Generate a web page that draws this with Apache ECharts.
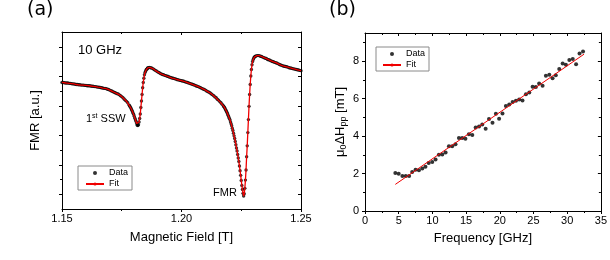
<!DOCTYPE html>
<html><head><meta charset="utf-8">
<script src="https://cdn.jsdelivr.net/npm/echarts@6/dist/echarts.min.js"></script>
<style>html,body{margin:0;padding:0;background:#fff}#c{width:610px;height:260px}</style>
</head><body><div id="c"></div>
<script>
// ---------- Panel (a): FMR spectrum at 10 GHz ----------
const fmrField = [
1.1500,1.1505,1.1510,1.1515,1.1520,1.1525,1.1530,1.1535,1.1540,1.1545,1.1550,1.1555,1.1560,1.1565,1.1570,1.1575,1.1580,1.1585,1.1590,1.1595,
1.1600,1.1605,1.1610,1.1615,1.1620,1.1625,1.1630,1.1635,1.1640,1.1645,1.1650,1.1655,1.1660,1.1665,1.1670,1.1675,1.1680,1.1685,1.1690,1.1695,
1.1700,1.1705,1.1710,1.1715,1.1720,1.1725,1.1730,1.1735,1.1740,1.1745,1.1750,1.1755,1.1760,1.1765,1.1770,1.1775,1.1780,
1.17825,1.1785,1.17875,1.1790,1.17925,1.1795,1.17975,1.1800,1.18025,1.1805,1.18075,1.1810,1.18125,1.1815,1.18175,1.1820,
1.18225,1.1825,1.18275,1.1830,1.18325,1.1835,1.18375,1.1840,1.18425,1.1845,1.18475,1.1850,1.18525,1.1855,1.18575,1.1860,1.1865,1.1870,
1.1875,1.1880,1.1885,1.1890,1.1895,1.1900,1.1905,1.1910,1.1915,1.1920,1.1925,1.1930,1.1935,1.1940,1.1945,1.1950,1.1955,1.1960,1.1965,1.1970,
1.1975,1.1980,1.1985,1.1990,1.1995,1.2000,1.2005,1.2010,1.2015,1.2020,1.2025,1.2030,1.2035,1.2040,1.2045,1.2050,1.2055,1.2060,1.2065,1.2070,
1.2075,1.2080,1.2085,1.2090,1.2095,1.2100,1.2105,1.2110,1.2115,1.2120,1.2125,1.2130,1.2135,1.2140,1.2145,1.2150,1.2155,1.2160,1.2165,1.2170,1.2175,
1.21775,1.2180,1.21825,1.2185,1.21875,1.2190,1.21925,1.2195,1.21975,1.2200,1.22025,1.2205,1.22075,1.2210,1.22125,1.2215,1.22175,1.2220,
1.22225,1.2225,1.22275,1.2230,1.22325,1.2235,1.22375,1.2240,1.22425,1.2245,1.22475,1.2250,1.22525,1.2255,1.22575,1.2260,1.22625,1.2265,
1.22675,1.2270,1.22725,1.2275,1.22775,1.2280,1.22825,1.2285,1.22875,1.2290,1.22925,1.2295,1.22975,1.2300,1.23025,1.2305,1.23075,1.2310,1.2315,1.2320,
1.2325,1.2330,1.2335,1.2340,1.2345,1.2350,1.2355,1.2360,1.2365,1.2370,1.2375,1.2380,1.2385,1.2390,1.2395,1.2400,1.2405,1.2410,
1.2415,1.2420,1.2425,1.2430,1.2435,1.2440,1.2445,1.2450,1.2455,1.2460,1.2465,1.2470,1.2475,1.2480,1.2485,1.2490,1.2495,1.2500
];
const fmrSignal = [
3.79,3.79,3.78,3.77,3.77,3.77,3.76,3.76,3.75,3.74,3.74,3.73,3.72,3.72,3.71,3.71,3.70,3.70,3.70,3.69,
3.69,3.68,3.68,3.68,3.67,3.66,3.66,3.65,3.65,3.64,3.63,3.63,3.62,3.61,3.60,3.59,3.59,3.58,3.56,3.55,
3.53,3.51,3.49,3.47,3.45,3.43,3.41,3.40,3.37,3.34,3.31,3.27,3.23,3.19,3.15,3.10,3.03,
3.00,2.97,2.93,2.89,2.85,2.80,2.75,2.70,2.64,2.58,2.52,2.47,2.40,2.34,2.33,2.36,
2.45,2.57,2.72,2.94,3.16,3.38,3.61,3.79,3.93,4.05,4.13,4.18,4.22,4.24,4.27,4.29,4.30,4.29,
4.28,4.26,4.23,4.20,4.18,4.15,4.13,4.10,4.08,4.06,4.05,4.03,4.02,4.00,3.99,3.97,3.96,3.94,3.93,3.92,
3.91,3.89,3.88,3.87,3.86,3.85,3.84,3.83,3.81,3.80,3.79,3.77,3.76,3.74,3.73,3.71,3.70,3.68,3.66,3.65,
3.63,3.61,3.59,3.57,3.55,3.53,3.50,3.48,3.46,3.43,3.40,3.37,3.34,3.30,3.27,3.22,3.19,3.14,3.10,3.05,3.00,
2.97,2.94,2.90,2.86,2.82,2.78,2.73,2.68,2.63,2.58,2.53,2.46,2.39,2.32,2.24,2.16,2.07,1.98,
1.89,1.79,1.68,1.57,1.47,1.35,1.23,1.11,0.96,0.80,0.64,0.47,0.30,0.16,0.03,-0.06,0.02,0.20,
0.48,0.82,1.27,1.64,2.09,2.53,2.98,3.38,3.72,4.01,4.23,4.39,4.50,4.57,4.62,4.65,4.67,4.68,4.70,4.70,
4.70,4.68,4.67,4.65,4.63,4.61,4.60,4.57,4.56,4.54,4.52,4.50,4.49,4.47,4.46,4.44,4.42,4.40,
4.38,4.37,4.35,4.34,4.33,4.32,4.31,4.29,4.28,4.27,4.26,4.25,4.24,4.23,4.22,4.21,4.20,4.19
];
const fieldLabels = ['1.15', '1.20', '1.25'];
const fmrTicks = [0, 1, 2, 3, 4, 5];
const fmrMinorTicks = [0.5, 1.5, 2.5, 3.5, 4.5];

// ---------- Panel (b): linewidth vs frequency ----------
const freqGHz = [
4.5,5.0,5.55,6.05,6.55,7.0,7.5,8.0,8.5,8.97,9.45,9.98,10.47,10.96,11.47,11.96,12.45,12.94,13.43,13.94,
14.42,14.9,15.41,15.92,16.42,16.92,17.4,17.9,18.4,18.92,19.42,19.9,20.4,20.9,21.4,21.9,22.4,22.88,23.37,23.88,
24.38,24.87,25.35,25.84,26.35,26.84,27.35,27.83,28.31,28.82,29.33,29.81,30.32,30.83,31.32,31.83,32.35
];
const linewidthMT = [
2.03,1.99,1.87,1.87,1.87,2.08,2.20,2.17,2.27,2.36,2.56,2.62,2.75,3.00,3.01,3.12,3.45,3.45,3.56,3.90,
3.90,3.86,4.10,4.06,4.46,4.51,4.61,4.39,4.91,4.71,5.19,4.93,5.21,5.60,5.69,5.82,5.88,5.95,5.90,6.23,
6.32,6.63,6.62,6.81,6.68,7.22,7.27,7.08,7.25,7.58,7.87,7.80,8.06,8.11,7.83,8.41,8.51
];
const fitFreq = [4.5, 32.5];
const fitLinewidth = [1.42, 8.37];
const lwTicks = [0, 2, 4, 6, 8];
const lwMinorTicks = [1, 3, 5, 7, 9];

// ---------- chart ----------
const FONT = '"Liberation Sans", Arial, sans-serif';
const BLACK = '#000';
const RED = '#f00000';
const chart = echarts.init(document.getElementById('c'), null, {renderer: 'canvas'});

function xAx(grid, pos, min, max, interval, withLabels, extra) {
  return Object.assign({
    gridIndex: grid, type: 'value', position: pos, min: min, max: max, interval: interval,
    axisLine: {show: true, onZero: false, lineStyle: {color: BLACK, width: 1}},
    axisTick: {show: true, inside: pos === 'top', length: 3, lineStyle: {color: BLACK, width: 1}},
    minorTick: {show: true, splitNumber: 2, length: 2, lineStyle: {color: BLACK, width: 1}},
    axisLabel: {show: withLabels, color: BLACK, fontSize: 11, fontFamily: FONT, margin: 4},
    splitLine: {show: false}, minorSplitLine: {show: false}
  }, extra || {});
}
function yAx(grid, pos, min, max, ticks, len, line, labels, extra) {
  const a = {
    gridIndex: grid, type: 'value', position: pos, min: min, max: max,
    axisLine: {show: line, onZero: false, lineStyle: {color: BLACK, width: 1}},
    axisTick: {show: true, inside: pos === 'right', length: len, customValues: ticks, lineStyle: {color: BLACK, width: 1}},
    axisLabel: labels ? {show: true, customValues: labels, color: BLACK, fontSize: 11, fontFamily: FONT, margin: 6} : {show: false},
    splitLine: {show: false}
  };
  return Object.assign(a, extra || {});
}

const option = {
  animation: false,
  backgroundColor: '#fff',
  grid: [
    {left: 62, top: 32, width: 239, height: 177},
    {left: 365, top: 33, width: 241, height: 178}
  ],
  xAxis: [
    xAx(0, 'bottom', 1.15, 1.25, 0.05, true, {
      axisLabel: {show: true, color: BLACK, fontSize: 11, fontFamily: FONT, margin: 4,
        formatter: function (v) { const s = v.toFixed(2); return fieldLabels.indexOf(s) >= 0 ? s : ''; }},
      name: 'Magnetic Field [T]', nameLocation: 'middle', nameGap: 22,
      nameTextStyle: {color: BLACK, fontSize: 13, fontFamily: FONT}
    }),
    xAx(0, 'top', 1.15, 1.25, 0.05, false),
    xAx(1, 'bottom', 0, 35, 5, true, {
      name: 'Frequency [GHz]', nameLocation: 'middle', nameGap: 21,
      nameTextStyle: {color: BLACK, fontSize: 13, fontFamily: FONT}
    }),
    xAx(1, 'top', 0, 35, 5, false)
  ],
  yAxis: [
    yAx(0, 'left', -0.5, 5.5, fmrTicks, 3, true, null, {
      name: 'FMR [a.u.]', nameLocation: 'middle', nameGap: 20,
      nameTextStyle: {color: BLACK, fontSize: 13, fontFamily: FONT}
    }),
    yAx(0, 'left', -0.5, 5.5, fmrMinorTicks, 2, false, null),
    yAx(0, 'right', -0.5, 5.5, fmrTicks, 3, true, null),
    yAx(0, 'right', -0.5, 5.5, fmrMinorTicks, 2, false, null),
    yAx(1, 'left', 0, 9.5, lwTicks, 3, true, lwTicks, {
      name: '{m|μ}{s|0}{m|ΔH}{s|pp}{m| [mT]}', nameLocation: 'middle', nameGap: 17,
      nameTextStyle: {color: BLACK, fontSize: 13, fontFamily: FONT,
        rich: {
          m: {fontSize: 13, fontFamily: FONT, color: BLACK},
          s: {fontSize: 9, fontFamily: FONT, color: BLACK, padding: [7, 0, 0, 0]}
        }}
    }),
    yAx(1, 'left', 0, 9.5, lwMinorTicks, 2, false, null),
    yAx(1, 'right', 0, 9.5, lwTicks, 3, true, null),
    yAx(1, 'right', 0, 9.5, lwMinorTicks, 2, false, null)
  ],
  legend: [
    {left: 78, top: 166, orient: 'vertical', data: ['Data (a)', 'Fit (a)'],
     formatter: function (n) { return n.split(' ')[0]; },
     itemWidth: 18, itemHeight: 4, itemGap: 1, padding: [2, 4, 1, 7], selectedMode: false,
     borderColor: '#8a8a8a', borderWidth: 1, backgroundColor: '#fff',
     textStyle: {fontSize: 9, color: BLACK, fontFamily: FONT, lineHeight: 10}},
    {left: 376, top: 47, orient: 'vertical', data: ['Data (b)', 'Fit (b)'],
     formatter: function (n) { return n.split(' ')[0]; },
     itemWidth: 18, itemHeight: 4, itemGap: 1, padding: [2, 4, 1, 6], selectedMode: false,
     borderColor: '#8a8a8a', borderWidth: 1, backgroundColor: '#fff',
     textStyle: {fontSize: 9, color: BLACK, fontFamily: FONT, lineHeight: 10}}
  ],
  series: [
    {name: 'Data (a)', type: 'scatter', xAxisIndex: 0, yAxisIndex: 0, z: 2,
     symbol: 'circle', symbolSize: 3.4, itemStyle: {color: BLACK},
     data: fmrField.map(function (f, i) { return [f, fmrSignal[i]]; })},
    {name: 'Fit (a)', type: 'line', xAxisIndex: 0, yAxisIndex: 0, z: 3,
     symbol: 'none', showSymbol: false, smooth: false,
     lineStyle: {color: RED, width: 1.3}, itemStyle: {color: RED},
     data: fmrField.map(function (f, i) { return [f, fmrSignal[i]]; })},
    {name: 'Data (b)', type: 'scatter', xAxisIndex: 2, yAxisIndex: 4, z: 2,
     symbol: 'circle', symbolSize: 4, itemStyle: {color: BLACK},
     data: freqGHz.map(function (f, i) { return [f, linewidthMT[i]]; })},
    {name: 'Fit (b)', type: 'line', xAxisIndex: 2, yAxisIndex: 4, z: 3,
     symbol: 'none', showSymbol: false,
     lineStyle: {color: RED, width: 1}, itemStyle: {color: RED},
     data: fitFreq.map(function (f, i) { return [f, fitLinewidth[i]]; })}
  ],
  graphic: [
    {type: 'text', x: 27, y: 1, style: {text: '(a)', fontSize: 19, fontFamily: '"DejaVu Sans", sans-serif', fill: BLACK, textAlign: 'left', textVerticalAlign: 'top'}},
    {type: 'text', x: 329, y: 1, style: {text: '(b)', fontSize: 19, fontFamily: '"DejaVu Sans", sans-serif', fill: BLACK, textAlign: 'left', textVerticalAlign: 'top'}},
    {type: 'text', left: 78, top: 44, style: {text: '10 GHz', fontSize: 13, fontFamily: FONT, fill: BLACK}},
    {type: 'text', left: 86, top: 113, style: {
      text: '{a|1}{b|st}{a| SSW}', fontFamily: FONT, fill: BLACK,
      rich: {a: {fontSize: 11, fontFamily: FONT, fill: BLACK}, b: {fontSize: 7, fontFamily: FONT, fill: BLACK, verticalAlign: 'top'}}}},
    {type: 'text', left: 213, top: 187, style: {text: 'FMR', fontSize: 11, fontFamily: FONT, fill: BLACK}}
  ]
};
chart.setOption(option);
</script>
</body></html>
